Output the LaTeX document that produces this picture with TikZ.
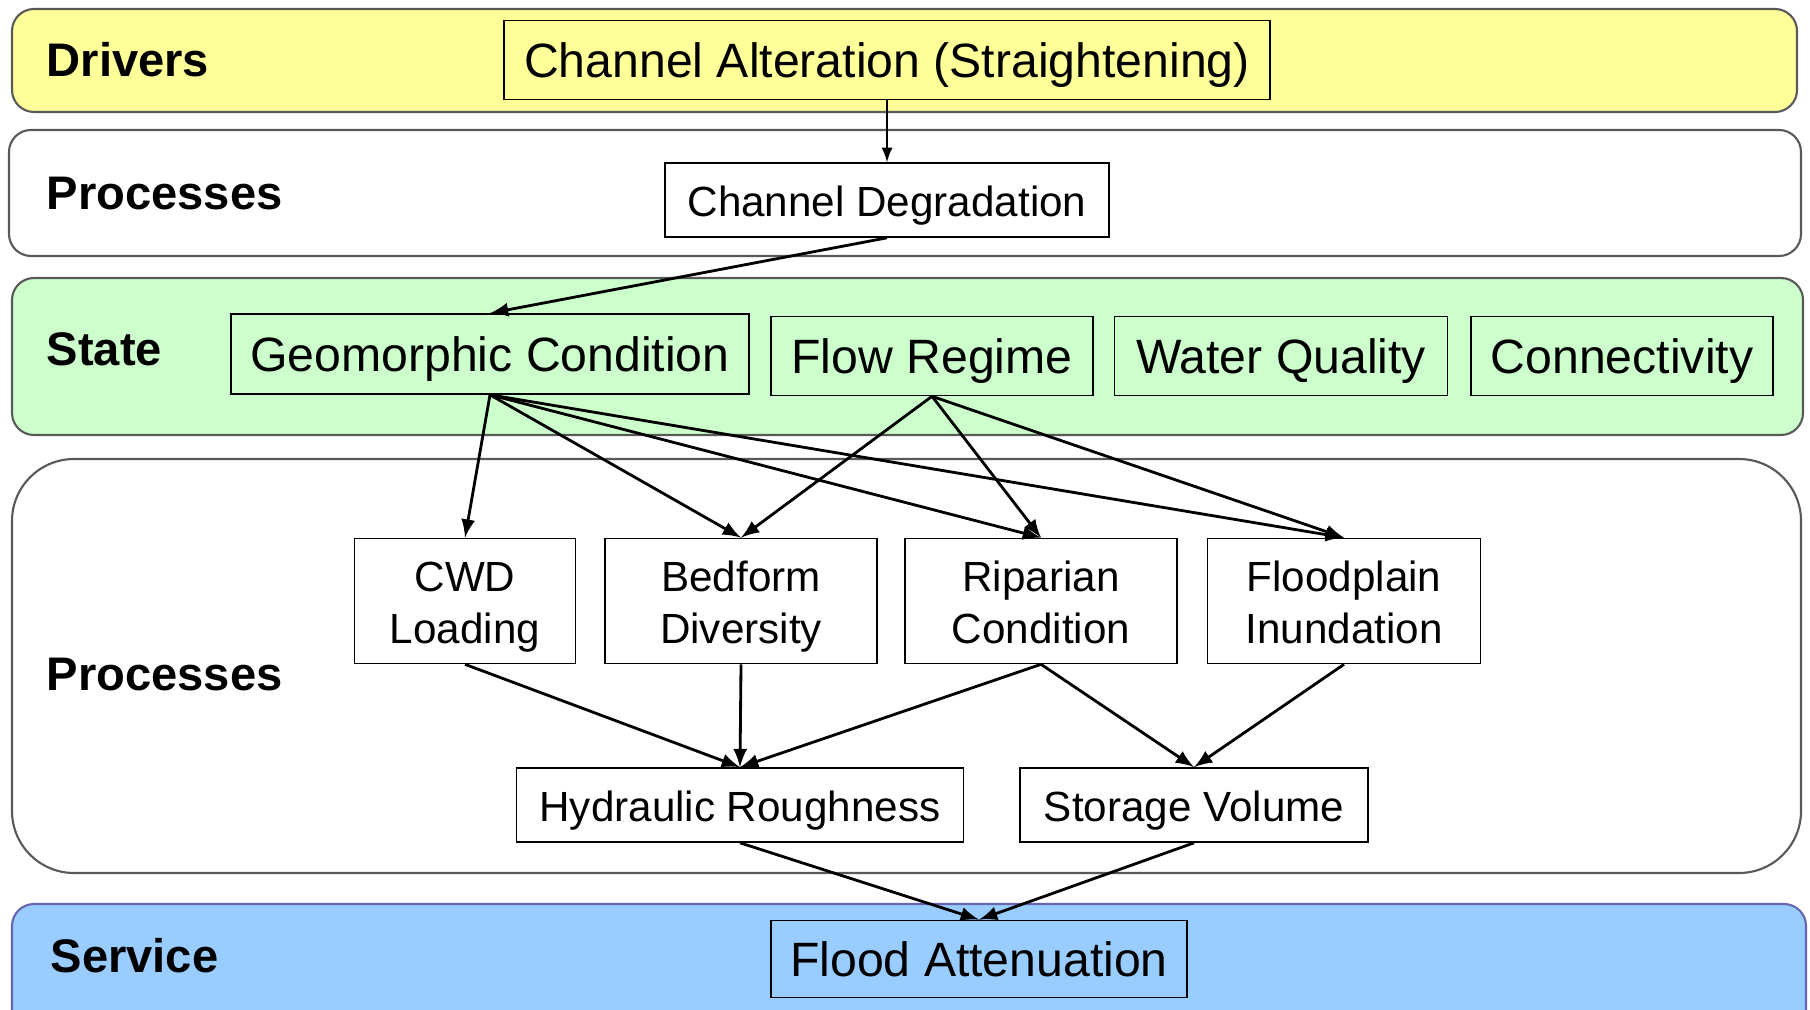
\documentclass[tikz,border=0pt]{standalone}
\usepackage{fontspec}
\setmainfont{Liberation Sans}
\usetikzlibrary{arrows}
\definecolor{drvyellow}{HTML}{FFFF99}
\definecolor{stategreen}{HTML}{CCFFCC}
\definecolor{serviceblue}{HTML}{99CCFF}
\newcommand{\twol}[2]{\rule{0pt}{1.0em}#1\\#2\rule[-0.22em]{0pt}{0pt}}
\tikzstyle{band} = [draw=black!65, line width=0.6pt, rounded corners=0.22cm]
\tikzstyle{bandlabel} = [anchor=west, inner sep=0pt,
font=\fontsize{13.4}{16}\selectfont\bfseries]
\tikzstyle{bigbox} = [rectangle, draw=black, line width=0.45pt,
minimum height=0.79cm, inner sep=0pt, text height=10pt, text depth=0.2pt,
font=\fontsize{13.7}{16}\selectfont]
\tikzstyle{smallbox} = [rectangle, draw=black, line width=0.45pt,
minimum height=0.74cm, inner sep=0pt, text height=9.4pt, text depth=0.2pt,
font=\fontsize{12}{14.8}\selectfont]
\tikzstyle{twobox} = [rectangle, draw=black, line width=0.45pt,
minimum height=1.25cm, inner sep=0pt, align=center,
font=\fontsize{12}{14.8}\selectfont]
\tikzstyle{arrow} = [line width=0.8pt,->,>=latex]
\tikzstyle{thinarrow} = [line width=0.45pt,->,>=latex]

\begin{document}
\begin{tikzpicture}[x=0.01cm, y=-0.01cm]
        \useasboundingbox (0,0) rectangle (1810,1010);
        \fill [white] (0,0) rectangle (1810,1010);
        % layer bands
        \draw [band, fill=drvyellow] (12,9) rectangle (1797,112);
        \draw [band, fill=white] (9,130) rectangle (1801,256);
        \draw [band, fill=stategreen] (12,278) rectangle (1803,435);
        \draw [band, fill=white, rounded corners=0.62cm] (12,459) rectangle (1801,873);
        \draw [band, draw=black!50!blue!60, fill=serviceblue] (12,904) rectangle (1806,1040);
        \node (drv) [bandlabel] at (46,60) {Drivers};
        \node (proc) [bandlabel] at (46,194) {Processes};
        \node (state) [bandlabel] at (46,349) {State};
        \node (proctwo) [bandlabel] at (46,675) {Processes};
        \node (serv) [bandlabel] at (50,956) {Service};
        % boxes
        \node (alter) [bigbox, minimum width=7.66cm] at (887,60) {Channel Alteration (Straightening)};
        \node (degr) [smallbox, minimum width=4.44cm] at (887,200) {Channel Degradation};
        \node (geo) [bigbox, minimum width=5.18cm, minimum height=0.80cm] at (490,354) {Geomorphic Condition};
        \node (flow) [bigbox, minimum width=3.22cm] at (932,356) {Flow Regime};
        \node (wq) [bigbox, minimum width=3.33cm] at (1281,356) {Water Quality};
        \node (conn) [bigbox, minimum width=3.02cm] at (1622,356) {Connectivity};
        \node (cwd) [twobox, minimum width=2.21cm] at (465,601) {\twol{CWD}{Loading}};
        \node (bed) [twobox, minimum width=2.72cm] at (741,601) {\twol{Bedform}{Diversity}};
        \node (rip) [twobox, minimum width=2.72cm] at (1041,601) {\twol{Riparian}{Condition}};
        \node (fldpl) [twobox, minimum width=2.73cm] at (1344,601) {\twol{Floodplain}{Inundation}};
        \node (hydr) [smallbox, minimum width=4.47cm] at (740,805) {Hydraulic Roughness};
        \node (stor) [smallbox, minimum width=3.48cm] at (1194,805) {Storage Volume};
        \node (atten) [bigbox, minimum width=4.16cm, minimum height=0.77cm] at (979,959) {Flood Attenuation};
        % links
        \draw [thinarrow] (alter) -- (degr);
        \draw [arrow] (degr.south) -- (geo.north);
        \draw [arrow] (geo.south) -- (cwd.north);
        \draw [arrow] (geo.south) -- (bed.north);
        \draw [arrow] (geo.south) -- (rip.north);
        \draw [arrow] (geo.south) -- (fldpl.north);
        \draw [arrow] (flow.south) -- (bed.north);
        \draw [arrow] (flow.south) -- (rip.north);
        \draw [arrow] (flow.south) -- (fldpl.north);
        \draw [arrow] (cwd.south) -- (hydr.north);
        \draw [arrow] (bed.south) -- (hydr.north);
        \draw [arrow] (rip.south) -- (hydr.north);
        \draw [arrow] (rip.south) -- (stor.north);
        \draw [arrow] (fldpl.south) -- (stor.north);
        \draw [arrow] (hydr.south) -- (atten.north);
        \draw [arrow] (stor.south) -- (atten.north);
    \end{tikzpicture}
\end{document}
